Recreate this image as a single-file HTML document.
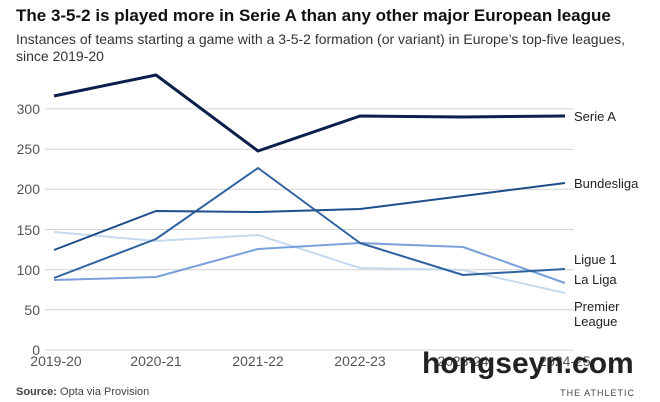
<!DOCTYPE html>
<html><head><style>
body{margin:0;width:660px;height:402px;background:#fff;font-family:"Liberation Sans",sans-serif;overflow:hidden;position:relative}
.t{position:absolute;left:16px;top:6px;font-size:17px;font-weight:bold;color:#111;white-space:nowrap}
.s{position:absolute;left:16px;top:31px;font-size:14px;line-height:17px;color:#333;width:640px}
</style></head><body>
<div class="t">The 3-5-2 is played more in Serie A than any other major European league</div>
<div class="s">Instances of teams starting a game with a 3-5-2 formation (or variant) in Europe’s top-five leagues, since 2019-20</div>
<svg width="660" height="402" style="position:absolute;left:0;top:0" font-family="Liberation Sans, sans-serif">
<g stroke="#d4d4d4" stroke-width="1">
<line x1="45" x2="574" y1="350" y2="350"/><line x1="45" x2="574" y1="309.8" y2="309.8"/><line x1="45" x2="574" y1="269.7" y2="269.7"/><line x1="45" x2="574" y1="229.5" y2="229.5"/><line x1="45" x2="574" y1="189.3" y2="189.3"/><line x1="45" x2="574" y1="149.2" y2="149.2"/><line x1="45" x2="574" y1="108.9" y2="108.9"/>
</g>
<g font-size="14" fill="#555" text-anchor="end">
<text x="40" y="355">0</text><text x="40" y="315">50</text><text x="40" y="275">100</text><text x="40" y="235">150</text><text x="40" y="194">200</text><text x="40" y="154">250</text><text x="40" y="114">300</text>
</g>
<g font-size="14" fill="#555" text-anchor="middle">
<text x="56" y="366">2019-20</text><text x="156" y="366">2020-21</text><text x="258" y="366">2021-22</text><text x="360" y="366">2022-23</text><text x="463" y="366">2023-24</text><text x="565" y="366">2024-25</text>
</g>
<g fill="none" stroke-linejoin="round">
<polyline stroke="#c5d9ef" stroke-width="2" points="54,232 156,241 258,235 360,268 463,270 565,293"/>
<polyline stroke="#7aa0dc" stroke-width="2" points="54,280 156,277 258,249 360,243 463,247 565,283"/>
<polyline stroke="#2e63a0" stroke-width="2" points="54,278 156,239 258,168 360,243 463,275 565,269"/>
<polyline stroke="#1d4e8a" stroke-width="2" points="54,250 156,211 258,212 360,209 463,196 565,183"/>
<polyline stroke="#0b1f4d" stroke-width="3" points="54,96 156,75 258,151 360,116 463,117 565,116"/>
</g>
<g font-size="13" fill="#222">
<text x="574" y="121">Serie A</text><text x="574" y="188">Bundesliga</text><text x="574" y="264">Ligue 1</text><text x="574" y="284">La Liga</text><text x="574" y="311">Premier</text><text x="574" y="326">League</text>
</g>
<text x="16" y="395" font-size="11" fill="#444"><tspan font-weight="bold">Source:</tspan> Opta via Provision</text>
<text x="635" y="396" font-size="9" fill="#444" text-anchor="end" letter-spacing="1">THE ATHLETIC</text>
<text x="422" y="373" font-size="30" font-weight="bold" fill="#222">hongseyn.com</text>
</svg>
</body></html>
